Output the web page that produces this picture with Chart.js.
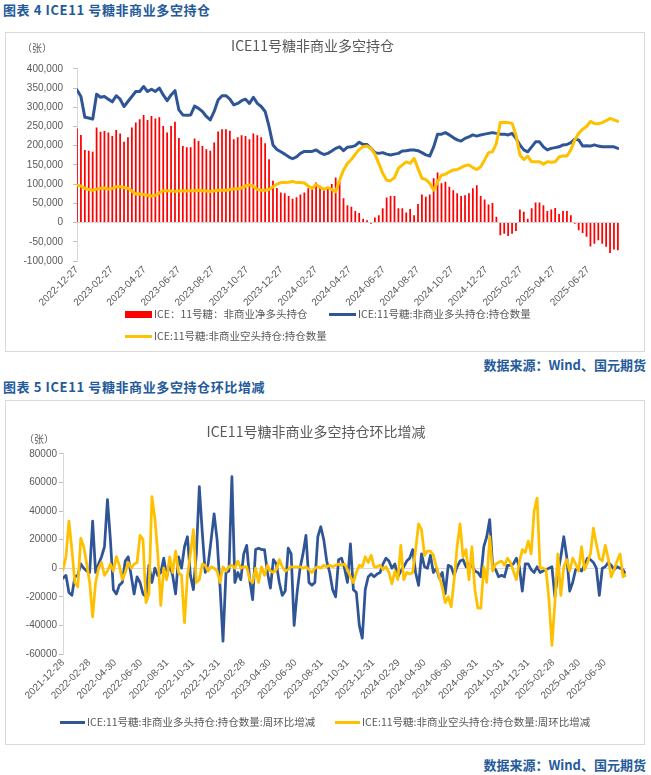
<!DOCTYPE html>
<html lang="zh-CN">
<head>
<meta charset="utf-8">
<title>ICE11号糖非商业多空持仓</title>
<script src="https://cdn.jsdelivr.net/npm/chart.js@4.4.1/dist/chart.umd.min.js"></script>
<style>
  html, body { margin: 0; padding: 0; background: #fff; }
  body { width: 651px; height: 775px; position: relative; overflow: hidden;
         font-family: "Noto Sans CJK SC", "Liberation Sans", sans-serif; }
  .head { position: absolute; left: 3px; color: #245a9a; font-weight: bold;
          font-size: 13px; line-height: 16px; letter-spacing: 0.6px; white-space: nowrap; }
  .src { position: absolute; right: 5px; color: #245a9a; font-weight: bold;
         font-size: 13px; line-height: 16px; white-space: nowrap; }
  .box { position: absolute; left: 5px; width: 638px; border: 1px solid #d9d9d9; }
  .box canvas { position: absolute; left: 0; top: 0; }
  .unit { position: absolute; font-size: 10px; line-height: 12px; color: #595959; }
  .lg { position: absolute; display: flex; align-items: center; font-size: 10.5px;
        line-height: 12px; color: #595959; white-space: nowrap; }
  .lg i { display: inline-block; margin-right: 2px; }
</style>
</head>
<body>

<div class="head" style="top:2px">图表 4 ICE11 号糖非商业多空持仓</div>
<div class="box" style="top:32px;height:318px">
  <canvas id="posChart" width="638" height="318"></canvas>
</div>
<div class="unit" style="left:22px;top:42px">（张）</div>
<div class="lg" style="left:125px;top:308px"><i style="width:27px;height:7px;background:#ff0000"></i>ICE：11号糖：非商业净多头持仓</div>
<div class="lg" style="left:329px;top:308px"><i style="width:27px;height:3px;background:#2f5597"></i>ICE:11号糖:非商业多头持仓:持仓数量</div>
<div class="lg" style="left:125px;top:330px"><i style="width:27px;height:3px;background:#ffc000"></i>ICE:11号糖:非商业空头持仓:持仓数量</div>
<div class="src" style="top:357px">数据来源：Wind、国元期货</div>

<div class="head" style="top:379px">图表 5 ICE11 号糖非商业多空持仓环比增减</div>
<div class="box" style="top:400px;height:343px">
  <canvas id="chgChart" width="638" height="343"></canvas>
</div>
<div class="unit" style="left:24px;top:433px">（张）</div>
<div class="lg" style="left:60px;top:716px"><i style="width:25px;height:3px;background:#2f5597"></i>ICE:11号糖:非商业多头持仓:持仓数量:周环比增减</div>
<div class="lg" style="left:335px;top:716px"><i style="width:25px;height:3px;background:#ffc000"></i>ICE:11号糖:非商业空头持仓:持仓数量:周环比增减</div>
<div class="src" style="top:757px">数据来源：Wind、国元期货</div>

<script>
  // 图表4：周度持仓，单位 千张，首周 2022-12-27
  const posStart = "2022-12-27";
  const netLong = [
    245, 228, 189, 187, 184, 247, 236, 238, 234, 225, 241, 232, 210, 222, 247, 260, 269, 280, 267, 277,
    271, 274, 251, 234, 251, 262, 220, 199, 196, 196, 219, 212, 199, 191, 187, 208, 237, 243, 243, 239,
    217, 222, 227, 225, 217, 232, 227, 222, 206, 165, 109, 90, 78, 76, 69, 62, 66, 73, 78, 89,
    93, 104, 96, 84, 89, 100, 117, 106, 63, 45, 41, 30, 25, 10, 6, -3, 13, 19, 37, 65,
    69, 69, 37, 37, 26, 35, 19, 48, 73, 67, 73, 115, 130, 102, 106, 93, 84, 76, 69, 71,
    76, 89, 97, 69, 60, 47, 51, 15, -33, -29, -35, -29, -22, 34, 28, 10, 37, 52, 52, 45,
    30, 34, 38, 22, 30, 30, 19, -3, -20, -27, -37, -62, -55, -46, -55, -63, -79, -70, -72
  ];
  const longPos = [
    345, 328, 274, 272, 269, 334, 326, 328, 321, 314, 330, 321, 302, 315, 328, 341, 341, 354, 341, 347,
    341, 350, 332, 317, 332, 343, 293, 280, 279, 280, 303, 297, 289, 276, 267, 289, 319, 330, 330, 321,
    306, 310, 317, 321, 310, 326, 310, 302, 289, 250, 202, 190, 184, 178, 171, 166, 171, 180, 185, 185,
    185, 189, 182, 177, 180, 186, 193, 197, 187, 196, 197, 200, 209, 203, 203, 193, 182, 180, 182, 178,
    176, 178, 180, 186, 187, 189, 189, 187, 182, 176, 173, 197, 230, 230, 234, 228, 221, 215, 212, 219,
    223, 228, 225, 228, 230, 232, 234, 232, 230, 230, 228, 232, 219, 202, 189, 184, 197, 210, 210, 197,
    189, 193, 195, 197, 202, 203, 208, 217, 215, 199, 200, 199, 202, 199, 197, 197, 197, 197, 193
  ];
  const shortPos = [
    97, 95, 89, 86, 84, 87, 89, 90, 87, 89, 93, 93, 91, 89, 82, 74, 74, 73, 71, 69,
    71, 77, 83, 83, 82, 81, 82, 82, 82, 83, 83, 84, 83, 82, 81, 83, 84, 84, 84, 86,
    87, 88, 90, 95, 98, 95, 86, 84, 84, 86, 93, 100, 104, 104, 105, 107, 104, 104, 103, 95,
    89, 99, 92, 87, 91, 86, 80, 110, 137, 154, 164, 178, 190, 197, 199, 193, 178, 154, 128, 110,
    109, 117, 141, 150, 158, 154, 167, 141, 115, 112, 102, 84, 106, 123, 126, 132, 137, 138, 143, 148,
    150, 143, 138, 145, 163, 182, 184, 206, 260, 261, 260, 258, 228, 176, 164, 173, 158, 158, 158, 152,
    158, 157, 158, 171, 173, 173, 189, 215, 232, 243, 250, 263, 258, 257, 260, 265, 271, 267, 263
  ];
  const posTicks = [
    "2022-12-27", "2023-02-27", "2023-04-27", "2023-06-27", "2023-08-27", "2023-10-27",
    "2023-12-27", "2024-02-27", "2024-04-27", "2024-06-27", "2024-08-27", "2024-10-27",
    "2024-12-27", "2025-02-27", "2025-04-27", "2025-06-27"
  ];

  // 图表5：周环比增减，单位 千张，首周 2021-12-28
  const chgStart = "2021-12-28";
  const longChg = [
    -7, -5, -17, -19, -6, -5, 3, 0, -2, -3, 33, -3, 3, 8, 15, 48, 20, -15, -18, -12,
    -10, 5, 8, -5, -18, -6, -10, -18, -20, 2, -10, 0, -5, -3, 7, -6, 3, -5, -18, 8,
    0, 15, 22, -5, -15, 10, 57, 25, -3, 3, 20, 38, 20, -13, -51, -3, -2, 64, -10, -3,
    -8, 10, 16, -8, -22, 13, 14, 13, 13, -3, -14, 6, 3, -10, -19, -16, 14, 10, -40, -17,
    0, 10, 23, -10, -12, -10, 22, 29, 20, 5, -3, -15, -20, 6, 7, 0, -10, 17, -15, -17,
    -40, -49, -15, -6, -4, -6, -4, -3, 3, 7, 5, 0, 3, -6, -2, 1, 5, 7, 13, -3,
    -12, 10, 1, 0, 9, -3, 0, -7, -3, -18, 2, 1, -5, 1, 5, 6, 1, 3, 2, -2,
    -3, -6, 15, 22, 34, 1, -1, -6, -5, -6, 2, 2, 3, 7, 1, -16, 3, 3, -1, -3,
    1, -3, -2, -1, 0, 1, -20, -3, 8, 22, 8, -16, -10, -1, 0, -2, 2, 7, 6, 4,
    0, -19, 0, 1, 4, 2, -1, 1, 0, -1, -5
  ];
  const shortChg = [
    -1, 8, 33, 13, -10, -13, 21, 15, 3, -10, -34, -10, 0, 4, -5, -2, 3, -2, 8, 2,
    -8, -3, 4, 0, 3, 4, 23, 20, -24, -18, 50, 35, 10, -26, 0, -8, 8, -3, 12, -3,
    -5, -38, -5, 10, 27, -10, -8, 3, 2, -2, 1, 0, -2, -10, 1, -2, 1, 2, 0, 5,
    0, 1, 1, -8, -10, 0, -10, 1, -5, 2, -2, -3, -1, 6, 1, -2, -1, 1, 1, 1,
    1, 0, 1, -1, -3, 0, 1, 0, 2, 1, 2, 1, 2, 3, 2, 3, -1, -6, -10, -3,
    2, 1, 8, 4, 9, 1, 1, 2, -1, 1, -3, -11, -2, -8, 16, -8, -3, -4, -3, 13,
    31, 27, 9, 12, 12, 9, 1, -6, -13, -24, -20, -27, -8, 15, 31, 8, 13, -8, 15, -15,
    -28, -28, 1, -10, 22, -2, 3, 4, 5, 2, 7, 4, -2, -8, 4, 13, 11, 19, 10, 40,
    49, 0, 0, -1, -22, -54, -24, 10, -19, 1, 6, -2, 7, 3, -2, 15, -1, 4, 10, 28,
    17, 7, 5, 16, 7, -6, -1, 5, 10, -6, -4
  ];
  const chgTicks = [
    "2021-12-28", "2022-02-28", "2022-04-30", "2022-06-30", "2022-08-31", "2022-10-31",
    "2022-12-31", "2023-02-28", "2023-04-30", "2023-06-30", "2023-08-31", "2023-10-31",
    "2023-12-31", "2024-02-29", "2024-04-30", "2024-06-30", "2024-08-31", "2024-10-31",
    "2024-12-31", "2025-02-28", "2025-04-30", "2025-06-30"
  ];

  Chart.defaults.font.family = '"Liberation Sans", "Noto Sans CJK SC", sans-serif';
  Chart.defaults.font.size = 10;
  Chart.defaults.color = "#595959";

  const DAY = 86400000;
  const dayOf = (s, start) => Math.round((Date.parse(s) - Date.parse(start)) / DAY);
  // 每周一个点，x 为距首周的天数
  const weekly = arr => arr.map((v, i) => ({ x: i * 7, y: v * 1000 }));

  function dateAxis(start, labels, max, h) {
    const days = labels.map(s => dayOf(s, start));
    return {
      type: "linear", min: 0, max: max, offset: false,
      afterBuildTicks: s => { s.ticks = days.map(v => ({ value: v })); },
      afterFit: s => { s.height = h; },
      grid: { display: false, drawTicks: false },
      border: { display: false },
      ticks: {
        autoSkip: false, maxRotation: 45, minRotation: 45, padding: 3,
        callback: v => labels[days.indexOf(v)]
      }
    };
  }

  function valueAxis(min, max, step, w, pad, fmt) {
    return {
      min: min, max: max,
      afterFit: s => { s.width = w; },
      border: { display: true, color: "#d9d9d9" },
      grid: {
        color: c => (c.tick && c.tick.value === 0) ? "#d9d9d9" : "rgba(0,0,0,0)",
        tickColor: "#bfbfbf", tickLength: 4
      },
      ticks: { stepSize: step, padding: pad, callback: fmt }
    };
  }

  const lineStyle = { pointRadius: 0, tension: 0, borderJoinStyle: "round", borderCapStyle: "round" };

  new Chart(document.getElementById("posChart"), {
    type: "bar",
    data: {
      datasets: [
        Object.assign({ type: "line", label: "ICE:11号糖:非商业空头持仓:持仓数量", data: weekly(shortPos),
          borderColor: "#ffc000", borderWidth: 3, order: 0 }, lineStyle),
        Object.assign({ type: "line", label: "ICE:11号糖:非商业多头持仓:持仓数量", data: weekly(longPos),
          borderColor: "#2f5597", borderWidth: 3, order: 1 }, lineStyle),
        { type: "bar", label: "ICE：11号糖：非商业净多头持仓", data: weekly(netLong),
          backgroundColor: "#ff0000", barPercentage: 0.45, categoryPercentage: 1, order: 2 }
      ]
    },
    options: {
      responsive: false,
      animation: false,
      layout: { padding: { left: 0, right: 25, top: 0, bottom: 45 } },
      plugins: {
        legend: { display: false },
        tooltip: { enabled: false },
        title: {
          display: true, text: "ICE11号糖非商业多空持仓", color: "#595959",
          font: { size: 14, weight: "normal", family: '"Noto Sans CJK SC", sans-serif' },
          padding: { top: 4, bottom: 15 }
        }
      },
      scales: {
        x: dateAxis(posStart, posTicks, 968, 45),
        y: valueAxis(-100000, 400000, 50000, 71, 10, v => v.toLocaleString("en-US"))
      }
    }
  });

  new Chart(document.getElementById("chgChart"), {
    type: "line",
    data: {
      datasets: [
        Object.assign({ label: "ICE:11号糖:非商业空头持仓:持仓数量:周环比增减", data: weekly(shortChg),
          borderColor: "#ffc000", borderWidth: 2.75, order: 0 }, lineStyle),
        Object.assign({ label: "ICE:11号糖:非商业多头持仓:持仓数量:周环比增减", data: weekly(longChg),
          borderColor: "#2f5597", borderWidth: 2.75, order: 1 }, lineStyle)
      ]
    },
    options: {
      responsive: false,
      animation: false,
      layout: { padding: { left: 0, right: 18, top: 0, bottom: 42 } },
      plugins: {
        legend: { display: false },
        tooltip: { enabled: false },
        title: {
          display: true, text: "ICE11号糖非商业多空持仓环比增减", color: "#595959",
          font: { size: 14, weight: "normal", family: '"Noto Sans CJK SC", sans-serif' },
          padding: { top: 22, bottom: 14 }
        }
      },
      scales: {
        x: dateAxis(chgStart, chgTicks, 1330, 48),
        y: valueAxis(-60000, 80000, 20000, 57, 2, v => String(v))
      }
    }
  });
</script>
</body>
</html>
